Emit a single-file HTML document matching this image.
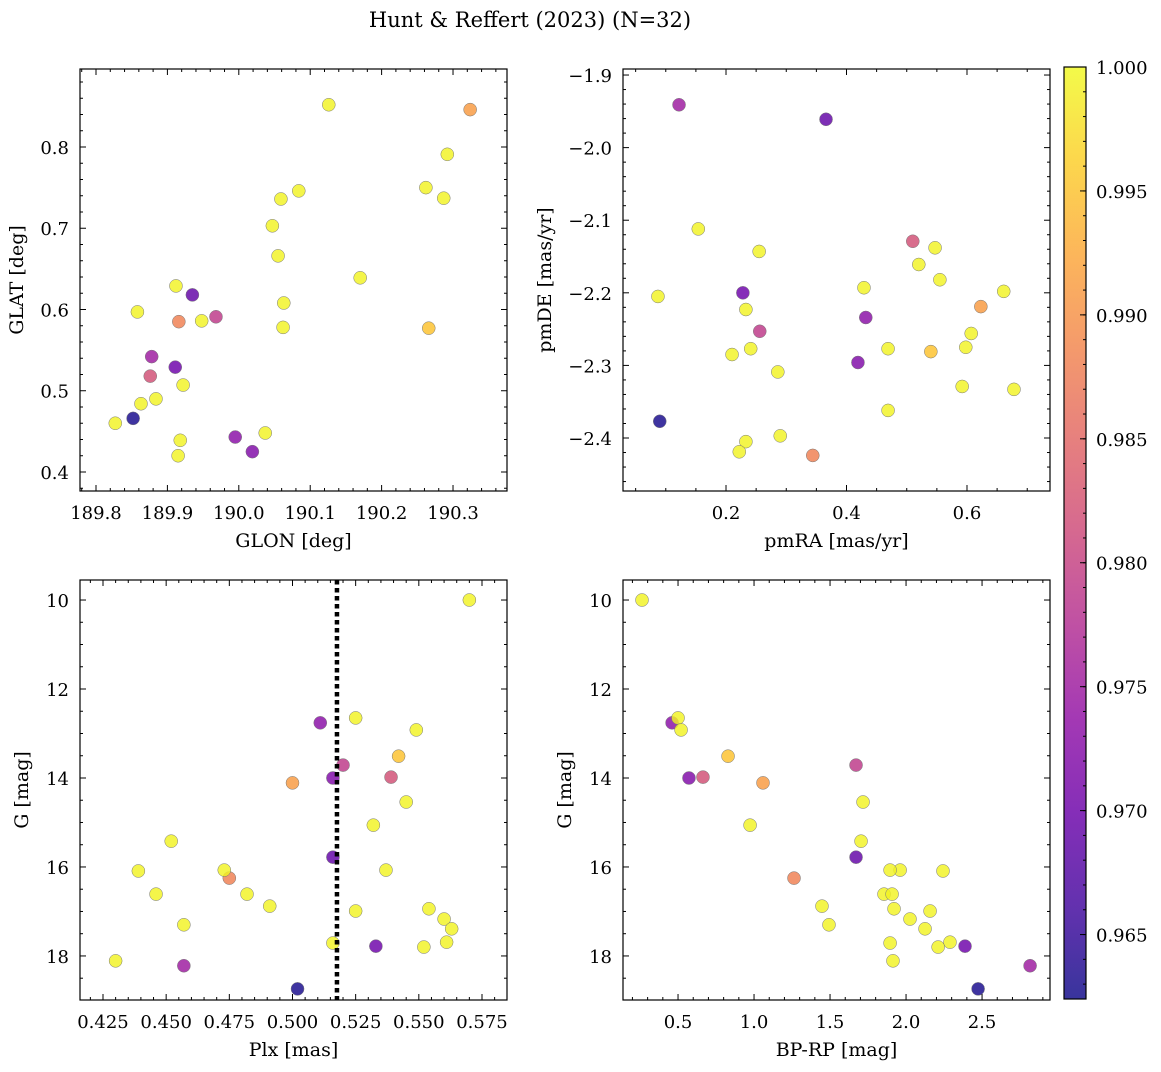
<!DOCTYPE html>
<html><head><meta charset="utf-8"><style>
body{margin:0;background:#fff}
svg text{font-family:"DejaVu Serif","Liberation Serif",serif;fill:#000}
</style></head><body>
<svg id="fig" width="1161" height="1067" viewBox="0 0 1161 1067" xmlns="http://www.w3.org/2000/svg">
<defs>
<linearGradient id="plasma" x1="0" y1="1" x2="0" y2="0">
<stop offset="0" stop-color="#0d0887"/><stop offset="0.1" stop-color="#41049d"/><stop offset="0.2" stop-color="#6a00a8"/><stop offset="0.3" stop-color="#8f0da4"/><stop offset="0.4" stop-color="#b12a90"/><stop offset="0.5" stop-color="#cc4778"/><stop offset="0.6" stop-color="#e16462"/><stop offset="0.7" stop-color="#f2844b"/><stop offset="0.8" stop-color="#fca636"/><stop offset="0.9" stop-color="#fcce25"/><stop offset="1" stop-color="#f0f921"/>
</linearGradient>
</defs>
<text x="530" y="27" font-size="21" text-anchor="middle">Hunt &amp; Reffert (2023) (N=32)</text>
</svg>
<script>
const glon=[189.852,189.935,189.911,190.019,189.995,189.878,189.968,189.876,189.916,190.324,190.266,
190.126,190.292,190.262,190.287,190.084,190.059,190.047,190.055,190.170,189.912,190.063,189.858,189.948,190.062,189.922,189.884,189.863,189.827,189.918,190.037,189.915];
const glat=[0.466,0.618,0.529,0.425,0.443,0.542,0.591,0.518,0.585,0.846,0.577,
0.852,0.791,0.750,0.737,0.746,0.736,0.703,0.666,0.639,0.629,0.608,0.597,0.586,0.578,0.507,0.490,0.484,0.460,0.439,0.448,0.420];
const pmra=[0.090,0.366,0.228,0.419,0.432,0.122,0.256,0.510,0.344,0.623,0.540,
0.154,0.547,0.255,0.520,0.555,0.429,0.087,0.661,0.233,0.607,0.241,0.469,0.598,0.210,0.592,0.678,0.286,0.469,0.290,0.233,0.222];
const pmde=[-2.377,-1.961,-2.200,-2.296,-2.234,-1.941,-2.253,-2.129,-2.424,-2.219,-2.281,
-2.112,-2.138,-2.143,-2.161,-2.182,-2.193,-2.205,-2.198,-2.223,-2.256,-2.277,-2.277,-2.275,-2.285,-2.329,-2.333,-2.309,-2.362,-2.397,-2.405,-2.419];
const plx=[0.502,0.516,0.533,0.516,0.511,0.457,0.520,0.539,0.475,0.500,0.542,
0.570,0.525,0.549,0.545,0.532,0.452,0.439,0.537,0.473,0.446,0.482,0.491,0.525,0.554,0.560,0.457,0.563,0.516,0.561,0.552,0.430];
const gmag=[18.74,15.78,17.78,14.00,12.76,18.22,13.71,13.98,16.25,14.11,13.51,
10.0,12.65,12.92,14.54,15.06,15.42,16.09,16.07,16.07,16.61,16.61,16.88,16.99,16.94,17.17,17.30,17.39,17.71,17.69,17.80,18.11];
const bprp=[2.474,1.671,2.388,0.572,0.461,2.816,1.671,0.664,1.263,1.059,0.829,
0.263,0.50,0.52,1.717,0.974,1.704,2.243,1.961,1.895,1.855,1.908,1.447,2.158,1.921,2.026,1.493,2.125,1.895,2.289,2.211,1.914];
const prob=[0.963,0.969,0.970,0.972,0.973,0.975,0.979,0.982,0.988,0.991,0.995,
0.9995,0.9995,0.9995,0.9995,0.9995,0.9995,0.9995,0.9995,0.9995,0.9995,0.9995,0.9995,0.9995,0.9995,0.9995,0.9995,0.9995,0.9995,0.9995,0.9995,0.9995];
const cbTicks=[0.965,0.970,0.975,0.980,0.985,0.990,0.995,1.000];
const plxLine=0.5176;

const NS="http://www.w3.org/2000/svg";
const svg=document.getElementById('fig');
const stops=["#0d0887","#41049d","#6a00a8","#8f0da4","#b12a90","#cc4778","#e16462","#f2844b","#fca636","#fcce25","#f0f921"];
const pmin=0.9624,pmax=1.0;
function hex(c){return [parseInt(c.substr(1,2),16),parseInt(c.substr(3,2),16),parseInt(c.substr(5,2),16)];}
function cmap(v){let t=Math.max(0,Math.min(1,(v-pmin)/(pmax-pmin)))*10;let i=Math.min(9,Math.floor(t)),f=t-i;
const a=hex(stops[i]),b=hex(stops[i+1]);return 'rgb('+a.map((x,k)=>Math.round(x+(b[k]-x)*f)).join(',')+')';}
function mk(tag,attrs,parent){const e=document.createElementNS(NS,tag);for(const k in attrs)e.setAttribute(k,attrs[k]);(parent||svg).appendChild(e);return e;}

function panel(o){
  const g=mk('g',{});
  
  
  const sx=v=>o.x0+(v-o.xmin)/(o.xmax-o.xmin)*(o.x1-o.x0);
  const sy=v=>o.y1-(v-o.ymin)/(o.ymax-o.ymin)*(o.y1-o.y0);
  const syy=o.yinv?(v=>o.y0+(v-o.ymin)/(o.ymax-o.ymin)*(o.y1-o.y0)):sy;
  for(let i=0;i<o.xs.length;i++){
    const c=mk('circle',{cx:sx(o.xs[i]),cy:syy(o.ys[i]),r:6.5,fill:cmap(prob[i]),'fill-opacity':0.82,stroke:'#777','stroke-width':0.5},g);
    
    
  }
  if(o.vline!==undefined){
    const l=mk('line',{x1:sx(o.vline),x2:sx(o.vline),y1:o.y0,y2:o.y1,stroke:'#000','stroke-width':4.5,'stroke-dasharray':'4.5,3.5'},g);
    
    
  }
  const fr=mk('rect',{x:o.x0,y:o.y0,width:o.x1-o.x0,height:o.y1-o.y0,fill:'none',stroke:'#000','stroke-width':1.2},g);
  
  
  const eps=1e-9;
  for(let v=Math.ceil(o.xmin/o.xminor-eps)*o.xminor;v<=o.xmax+eps;v+=o.xminor){
    const X=sx(v);const maj=Math.abs(v/o.xmajor-Math.round(v/o.xmajor))<1e-4;const L=maj?6:3;
    mk('line',{x1:X,x2:X,y1:o.y1,y2:o.y1-L,stroke:'#000','stroke-width':1},g);
    mk('line',{x1:X,x2:X,y1:o.y0,y2:o.y0+L,stroke:'#000','stroke-width':1},g);
    if(maj){const t=mk('text',{x:X,y:o.y1+28,'font-size':18,'text-anchor':'middle'},g);t.textContent=o.xfmt(v).replace('-','\u2212');
      }
  }
  for(let v=Math.ceil(o.ymin/o.yminor-eps)*o.yminor;v<=o.ymax+eps;v+=o.yminor){
    const Y=syy(v);const maj=Math.abs(v/o.ymajor-Math.round(v/o.ymajor))<1e-4;const L=maj?6:3;
    mk('line',{x1:o.x0,x2:o.x0+L,y1:Y,y2:Y,stroke:'#000','stroke-width':1},g);
    mk('line',{x1:o.x1,x2:o.x1-L,y1:Y,y2:Y,stroke:'#000','stroke-width':1},g);
    if(maj){const t=mk('text',{x:o.x0-11,y:Y+7,'font-size':18,'text-anchor':'end'},g);t.textContent=o.yfmt(v).replace('-','\u2212');
      }
  }
  const xl=mk('text',{x:(o.x0+o.x1)/2,y:o.y1+56,'font-size':19,'text-anchor':'middle'},g);xl.textContent=o.xlabel;
  
  const cy=(o.y0+o.y1)/2;
  const yl=mk('text',{x:o.ylx,y:cy,'font-size':19,'text-anchor':'middle',transform:'rotate(-90 '+o.ylx+' '+cy+')'},g);yl.textContent=o.ylabel;
  
}
const f1=v=>v.toFixed(1),f3=v=>v.toFixed(3);
panel({name:'glon-glat-panel',x0:80,x1:507,y0:69,y1:491,xmin:189.7776,xmax:190.3756,ymin:0.3766,ymax:0.896,
  xmajor:0.1,xminor:0.02,ymajor:0.1,yminor:0.02,xfmt:f1,yfmt:f1,xs:glon,ys:glat,xlabel:'GLON [deg]',ylabel:'GLAT [deg]',ylx:23});
panel({name:'pm-panel',x0:623,x1:1050,y0:69,y1:491,xmin:0.029,xmax:0.7378,ymin:-2.473,ymax:-1.8917,
  xmajor:0.2,xminor:0.05,ymajor:0.1,yminor:0.02,xfmt:f1,yfmt:f1,xs:pmra,ys:pmde,xlabel:'pmRA [mas/yr]',ylabel:'pmDE [mas/yr]',ylx:551});
panel({name:'plx-g-panel',x0:80,x1:507,y0:580,y1:1000,xmin:0.4159,xmax:0.5849,ymin:9.55,ymax:18.99,yinv:true,
  xmajor:0.025,xminor:0.005,ymajor:2,yminor:0.5,xfmt:f3,yfmt:v=>String(Math.round(v)),xs:plx,ys:gmag,xlabel:'Plx [mas]',ylabel:'G [mag]',ylx:28,vline:plxLine});
panel({name:'cmd-panel',x0:623,x1:1050,y0:580,y1:1000,xmin:0.138,xmax:2.947,ymin:9.55,ymax:18.99,yinv:true,
  xmajor:0.5,xminor:0.1,ymajor:2,yminor:0.5,xfmt:f1,yfmt:v=>String(Math.round(v)),xs:bprp,ys:gmag,xlabel:'BP-RP [mag]',ylabel:'G [mag]',ylx:571});
const cb=mk('g',{});


const cbx0=1064,cbx1=1086,cby0=67,cby1=999;
mk('rect',{x:cbx0,y:cby0,width:cbx1-cbx0,height:cby1-cby0,fill:'url(#plasma)','fill-opacity':0.82},cb);
mk('rect',{x:cbx0,y:cby0,width:cbx1-cbx0,height:cby1-cby0,fill:'none',stroke:'#000','stroke-width':1.2},cb);
const cys=v=>cby1-(v-pmin)/(pmax-pmin)*(cby1-cby0);
for(let v=0.963;v<=1.00001;v+=0.001){const Y=cys(v);mk('line',{x1:cbx1,x2:cbx1-3,y1:Y,y2:Y,stroke:'#000','stroke-width':1},cb);}
cbTicks.forEach(v=>{const Y=cys(v);mk('line',{x1:cbx1,x2:cbx1-6,y1:Y,y2:Y,stroke:'#000','stroke-width':1},cb);
  const t=mk('text',{x:cbx1+10,y:Y+7,'font-size':18},cb);t.textContent=v.toFixed(3);
  });
</script>
</body></html>
